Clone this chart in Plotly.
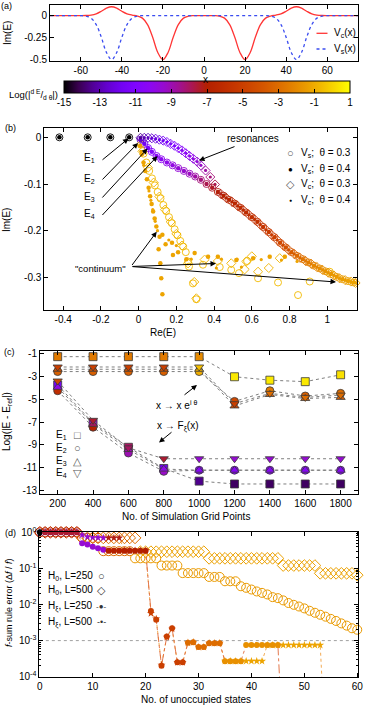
import plotly.graph_objects as go

W, H = 374, 706
FONT = "Liberation Sans, Arial, sans-serif"

# ---------------- panel (a): potentials ----------------
x_pot = [-75, -72.5, -70, -67.5, -65, -62.5, -60, -57.5, -55, -52.5, -50, -47.5, -45, -42.5, -40, -37.5,
         -35, -32.5, -30, -27.5, -25, -22.5, -20, -17.5, -15, -12.5, -10, -7.5, -5, -2.5, 0, 2.5, 5, 7.5,
         10, 12.5, 15, 17.5, 20, 22.5, 25, 27.5, 30, 32.5, 35, 37.5, 40, 42.5, 45, 47.5, 50, 52.5, 55,
         57.5, 60, 62.5, 65, 67.5, 70, 72.5, 75]
Vs_vals = [0, 0, 0, 0, 0, 0, -0.001, -0.006, -0.029, -0.102, -0.246, -0.419, -0.5, -0.419, -0.246, -0.102,
           -0.029, -0.006, -0.001, 0, 0, 0, 0, 0, 0, 0, 0, 0, 0, 0, 0, 0, 0, 0,
           0, 0, 0, 0, 0, 0, 0, 0, -0.001, -0.006, -0.029, -0.102, -0.246, -0.419, -0.5, -0.419, -0.246, -0.102, -0.029,
           -0.006, -0.001, 0, 0, 0, 0, 0, 0]
Vc_vals = [0, 0, 0, 0, 0, 0, 0, 0.001, 0.006, 0.020, 0.049, 0.084, 0.1, 0.084, 0.049, 0.020,
           0.005, -0.005, -0.029, -0.102, -0.246, -0.419, -0.5, -0.419, -0.246, -0.102, -0.029, -0.006, -0.001, 0, 0, 0, -0.001, -0.006,
           -0.029, -0.102, -0.246, -0.419, -0.5, -0.419, -0.246, -0.102, -0.029, -0.005, 0.005, 0.020, 0.049, 0.084, 0.1, 0.084, 0.049, 0.020, 0.006,
           0.001, 0, 0, 0, 0, 0, 0, 0]

# ---------------- panel (b): complex spectra ----------------
bound_re = [-0.42, -0.27, -0.15, -0.05]
bound_im = [0, 0, 0, 0]
bound_c = [-15, -15, -15, -15]

res_re = [0.01, 0.03, 0.05, 0.07, 0.095, 0.12, 0.15, 0.18, 0.21, 0.24,
          0.27, 0.30, 0.33, 0.36, 0.39, 0.42, 0.45, 0.48, 0.51, 0.54,
          0.57, 0.60, 0.63, 0.66, 0.69, 0.72, 0.75, 0.78, 0.81, 0.84,
          0.87, 0.90, 0.93, 0.96, 0.99, 1.02, 1.05, 1.08, 1.11, 1.14]
res_im = [-0.005, -0.014, -0.023, -0.031, -0.040, -0.047, -0.054, -0.060, -0.066, -0.072,
          -0.078, -0.084, -0.091, -0.100, -0.108, -0.117, -0.125, -0.134, -0.142, -0.151,
          -0.161, -0.171, -0.181, -0.192, -0.203, -0.214, -0.226, -0.236, -0.246, -0.254,
          -0.261, -0.268, -0.275, -0.281, -0.287, -0.293, -0.299, -0.304, -0.308, -0.311]
res_c = [-12.5, -11.8, -11.2, -10.8, -10.5, -10.2, -10, -9.8, -9.6, -9.4,
         -9.2, -8.8, -8.3, -7.8, -7.4, -7.1, -6.9, -6.7, -6.5, -6.3,
         -6.1, -5.9, -5.7, -5.5, -5.2, -4.9, -4.5, -4.1, -3.6, -3.1,
         -2.7, -2.4, -2.1, -1.9, -1.7, -1.6, -1.5, -1.4, -1.3, -1.2]

upper_re = [0.01, 0.03, 0.05, 0.07, 0.09, 0.11, 0.13, 0.15, 0.17, 0.19, 0.21, 0.23, 0.25, 0.27, 0.29, 0.31, 0.33,
            0.355, 0.38, 0.405,
            0.435, 0.465, 0.495, 0.525, 0.555, 0.585, 0.615, 0.645, 0.675, 0.705, 0.735, 0.765, 0.795, 0.825,
            0.855, 0.885, 0.915, 0.945, 0.975, 1.005, 1.035, 1.065, 1.095, 1.125, 1.15]
upper_im = [-0.001, -0.001, -0.001, -0.002, -0.003, -0.005, -0.007, -0.010, -0.014, -0.018, -0.023, -0.028, -0.034,
            -0.040, -0.046, -0.052, -0.060,
            -0.071, -0.085, -0.101,
            -0.121, -0.130, -0.138, -0.147, -0.156, -0.166, -0.176, -0.187, -0.198, -0.209, -0.220, -0.231, -0.241,
            -0.250, -0.258, -0.265, -0.271, -0.278, -0.284, -0.290, -0.296, -0.302, -0.306, -0.309, -0.312]
upper_c = [-13.5, -13, -12.8, -12.5, -12.2, -12, -11.7, -11.4, -11.2, -11, -10.8, -10.5, -10.3, -10.1, -9.9, -9.6, -9.3,
           -8.8, -8.3, -7.8,
           -7.2, -6.9, -6.7, -6.5, -6.3, -6.1, -5.9, -5.7, -5.5, -5.2, -4.9, -4.5, -4.1, -3.6, -3.1, -2.7, -2.4,
           -2.1, -1.9, -1.7, -1.6, -1.5, -1.4, -1.3, -1.2]

cont_vs3_re = [0.012, 0.026, 0.041, 0.056, 0.071, 0.086, 0.101, 0.116, 0.131, 0.146, 0.161, 0.176, 0.191, 0.206,
               0.221, 0.236, 0.25, 0.262, 0.267, 0.288, 0.306, 0.341, 0.43, 0.491, 0.532, 0.633, 0.739, 0.845,
               0.907, 1.013, 0.575]
cont_vs3_im = [-0.016, -0.035, -0.054, -0.072, -0.088, -0.103, -0.117, -0.131, -0.145, -0.158, -0.171, -0.184,
               -0.197, -0.21, -0.222, -0.234, -0.246, -0.266, -0.277, -0.313, -0.347, -0.273, -0.278, -0.284,
               -0.291, -0.302, -0.311, -0.338, -0.309, -0.288, -0.265]
cont_vs3_c = [-0.6] * 31

cont_vs4_re = [0.008, 0.017, 0.026, 0.035, 0.044, 0.053, 0.061, 0.069, 0.077, 0.085, 0.094, 0.111, 0.126, 0.106,
               0.143, 0.177, 0.209, 0.115, 0.12, 0.126, 0.182, 0.253, 0.297, 0.368, 0.42, 0.518, 0.607, 0.695, 0.775]
cont_vs4_im = [-0.018, -0.036, -0.054, -0.072, -0.09, -0.108, -0.126, -0.143, -0.159, -0.174, -0.191, -0.213,
               -0.209, -0.24, -0.229, -0.226, -0.246, -0.27, -0.302, -0.336, -0.252, -0.261, -0.248, -0.256,
               -0.256, -0.263, -0.259, -0.256, -0.256]
cont_vs4_c = [-1.2] * 29

cont_vc3_re = [0.02, 0.05, 0.08, 0.11, 0.14, 0.17, 0.20, 0.23, 0.262, 0.306, 0.35, 0.42, 0.491, 0.562, 0.571,
               0.633, 0.69, 0.748, 0.295, 0.60]
cont_vc3_im = [-0.03, -0.065, -0.097, -0.127, -0.155, -0.181, -0.207, -0.232, -0.270, -0.345, -0.262, -0.265,
               -0.27, -0.283, -0.266, -0.288, -0.28, -0.259, -0.31, -0.255]
cont_vc3_c = [-0.8] * 20

cont_vc4_re = [0.012, 0.027, 0.042, 0.055, 0.065, 0.075, 0.088, 0.1, 0.279, 0.412, 0.439, 0.522, 0.545, 0.65,
               0.757, 0.84, 0.2, 0.16]
cont_vc4_im = [-0.03, -0.06, -0.09, -0.115, -0.135, -0.155, -0.18, -0.2, -0.261, -0.28, -0.261, -0.261, -0.278,
               -0.262, -0.263, -0.266, -0.232, -0.22]
cont_vc4_c = [-1.2] * 18

# ---------------- panel (c): convergence ----------------
grid_pts = [200, 400, 600, 800, 1000, 1200, 1400, 1600, 1800]
cs_E1 = [-1.3, -1.3, -1.3, -1.3, -1.3, -3.05, -3.35, -3.48, -2.88]
cs_E2 = [-2.6, -2.6, -2.6, -2.6, -2.6, -5.2, -4.27, -4.73, -4.5]
cs_E3 = [-2.4, -2.4, -2.4, -2.4, -2.4, -5.6, -4.6, -4.95, -4.85]
cs_E4 = [-2.2, -2.2, -2.2, -2.2, -2.2, -5.4, -4.5, -4.85, -4.65]
cs_E1_c = [-2.5, -2.5, -2.5, -2.5, -2.0, 0.5, 0.5, 0.5, 0.3]
cs_E2_c = [-3.5, -3.5, -3.5, -3.5, -1.0, -4.5, -2.5, -3.5, -3.0]
cs_E3_c = [-4.0, -4.0, -4.0, -4.0, -1.0, -4.5, -3.5, -3.5, -3.5]
cs_E4_c = [-5.0, -5.0, -5.0, -5.0, -0.5, -5.0, -3.0, -3.0, -3.0]
fx_E1 = [-3.77, -7.1, -9.2, -11.05, -12.15, -12.4, -12.4, -12.4, -12.4]
fx_E2 = [-4.27, -7.45, -9.7, -11.3, -11.2, -11.2, -11.2, -11.2, -11.2]
fx_E3 = [-3.97, -7.2, -9.4, -11.1, -11.2, -11.2, -11.2, -11.2, -11.2]
fx_E4 = [-3.42, -6.85, -9.25, -10.2, -10.2, -10.2, -10.2, -10.2, -10.2]
fx_E1_c = [-11.5, -9.5, -8.0, -12.0, -13.5, -14.0, -14.0, -14.0, -14.0]
fx_E2_c = [-6.0, -7.0, -9.0, -9.3, -10.5, -10.5, -10.5, -10.5, -10.5]
fx_E3_c = [-10.0, -8.0, -9.0, -10.0, -10.5, -10.5, -10.5, -10.5, -10.5]
fx_E4_c = [-4.5, -7.5, -8.0, -7.5, -9.5, -9.5, -9.5, -9.5, -9.5]

# ---------------- panel (d): f-sum rule ----------------
n_states = [0, 1, 2, 3, 4, 5, 6, 7, 8, 9, 10, 11, 12, 13, 14, 15, 16, 17, 18, 19, 20, 21, 22, 23, 24, 25, 26,
            27, 28, 29, 30, 31, 32, 33, 34, 35, 36, 37, 38, 39, 40, 41, 42, 43, 44, 45, 46, 47, 48, 49, 50, 51,
            52, 53, 54, 55, 56, 57, 58, 59, 60]
h0_250 = [1.0, 1.0, 1.0, 1.0, 1.0, 1.0, 1.0, 1.0, 0.7, 0.7, 0.7, 0.7, 0.3, 0.3, 0.3, 0.3, 0.3, 0.3,
          0.19, 0.19, 0.19, 0.19, 0.19, 0.12, 0.12, 0.12, 0.12, 0.074, 0.074, 0.074, 0.074, 0.074,
          0.058, 0.058, 0.058, 0.044, 0.044, 0.044, 0.032, 0.029, 0.026, 0.023, 0.021, 0.019, 0.016,
          0.015, 0.013, 0.011, 0.0098, 0.0088, 0.0078, 0.0067, 0.0059, 0.0052, 0.0046, 0.004, 0.0035,
          0.003, 0.0026, 0.0022, 0.002]
h0_250_c = [-6] * 8 + [-4] * 4 + [-3] * 6 + [-1.5] * 43
h0_500 = [1.0, 1.0, 1.0, 1.0, 1.0, 1.0, 1.0, 1.0, 0.7, 0.7, 0.7, 0.7, 0.7, 0.7, 0.7, 0.7, 0.7, 0.7, 0.7,
          0.29, 0.29, 0.29, 0.29, 0.29, 0.29, 0.29, 0.29, 0.29, 0.29, 0.29, 0.29, 0.29,
          0.19, 0.19, 0.19, 0.19, 0.19, 0.19, 0.19, 0.19, 0.19, 0.19, 0.19, 0.19, 0.19, 0.19,
          0.12, 0.12, 0.12, 0.12, 0.12, 0.12, 0.12, 0.073, 0.073, 0.073, 0.073, 0.073, 0.073, 0.073, 0.065]
h0_500_c = [-6] * 8 + [-3] * 11 + [-1.3] * 42
hx_250 = [1.0, 1.0, 1.0, 1.0, 1.0, 1.0, 1.0, 1.0, 0.5, 0.46, 0.4, 0.36, 0.33,
          0.31, 0.31, 0.31, 0.31, 0.31, 0.31, 0.31, 0.31,
          0.0066, 0.0038, 2.0e-4, 1.3e-3, 2.2e-3, 2.5e-4, 2.5e-4, 8.7e-4, 9.0e-4, 6.6e-4, 6.6e-4,
          8.5e-4, 8.5e-4, 8.5e-4, 2.7e-4, 2.7e-4, 2.7e-4, 2.7e-4,
          7.5e-4, 7.5e-4, 7.5e-4, 7.5e-4, 7.5e-4, 7.5e-4, 7.5e-4, 1e-6]
hx_250_c = [-15] + [-7.5] * 7 + [-9.5] * 5 + [-7] * 8 + [-5] * 7 + [-3] * 7 + [-1.8] * 11
hx_500 = [1.0, 1.0, 1.0, 1.0, 1.0, 1.0, 1.0, 1.0, 0.85, 0.75, 0.72, 0.71, 0.7, 0.7, 0.7, 0.7,
          0.31, 0.31, 0.31, 0.31, 0.31,
          0.0057, 0.0040, 2.1e-4, 1.25e-3, 2.1e-3, 2.5e-4, 2.5e-4, 8.7e-4, 9.0e-4, 6.6e-4, 6.6e-4,
          8.5e-4, 8.5e-4, 8.5e-4,
          2.7e-4, 2.7e-4, 2.7e-4, 2.7e-4, 2.7e-4, 2.7e-4, 2.7e-4, 2.7e-4,
          7.5e-4, 7.5e-4, 7.5e-4, 7.5e-4, 7.5e-4, 7.5e-4, 7.5e-4, 7.5e-4, 7.5e-4, 7.5e-4, 7.5e-4, 1e-6]
hx_500_c = [-13] * 8 + [-9.5] * 5 + [-7.2] * 3 + [-7] * 5 + [-5] * 7 + [-3] * 7 + [-1.2] * 19
ref_level = [1e-3, 1e-3]
ref_x = [0, 60]

# ---------------- colour palette (gnuplot-like) ----------------
PALETTE = [[0.0, "rgb(0,0,0)"], [0.05, "rgb(57,0,79)"], [0.1, "rgb(81,0,150)"], [0.15, "rgb(99,1,206)"],
           [0.2, "rgb(114,2,243)"], [0.25, "rgb(128,4,255)"], [0.3, "rgb(140,7,243)"],
           [0.35, "rgb(151,11,206)"], [0.4, "rgb(161,16,150)"], [0.45, "rgb(171,23,79)"],
           [0.5, "rgb(180,32,0)"], [0.55, "rgb(189,42,0)"], [0.6, "rgb(198,55,0)"], [0.65, "rgb(206,70,0)"],
           [0.7, "rgb(213,87,0)"], [0.75, "rgb(221,108,0)"], [0.8, "rgb(228,131,0)"],
           [0.85, "rgb(235,157,0)"], [0.9, "rgb(242,186,0)"], [0.95, "rgb(249,219,0)"], [1.0, "rgb(255,255,0)"]]


def px(x):
    return x / W


def py(y):
    return 1 - y / H


fig = go.Figure()

# (a)
fig.add_trace(go.Scatter(x=x_pot, y=Vc_vals, mode="lines", line=dict(color="#ff3535", width=1.3, shape="spline"),
                         xaxis="x", yaxis="y"))
fig.add_trace(go.Scatter(x=x_pot, y=Vs_vals, mode="lines",
                         line=dict(color="#3a4cf0", width=1.3, dash="dot", shape="spline"), xaxis="x", yaxis="y"))


# (b)
def pts(xs, ys, cs, symbol, size, open_=False, lw=1.0):
    return go.Scatter(x=xs, y=ys, mode="markers", xaxis="x2", yaxis="y2", cliponaxis=False,
                      marker=dict(symbol=symbol, size=size, color=cs, coloraxis="coloraxis",
                                  line=dict(width=lw if open_ else 0)))


fig.add_trace(pts(bound_re + res_re + cont_vs3_re, bound_im + res_im + cont_vs3_im,
                  bound_c + res_c + cont_vs3_c, "circle-open", 7, True, 0.9))
fig.add_trace(pts(upper_re + cont_vc3_re, upper_im + cont_vc3_im, upper_c + cont_vc3_c,
                  "diamond-open", 7, True, 0.9))
fig.add_trace(pts(bound_re + res_re + cont_vs4_re, bound_im + res_im + cont_vs4_im,
                  bound_c + res_c + cont_vs4_c, "circle", 4.5))
fig.add_trace(pts(upper_re + cont_vc4_re, upper_im + cont_vc4_im, upper_c + cont_vc4_c, "circle", 3.2))

# (c)
syms = ["square", "circle", "triangle-up", "triangle-down"]
for ys, cs, sym in zip([cs_E1, cs_E2, cs_E3, cs_E4, fx_E1, fx_E2, fx_E3, fx_E4],
                       [cs_E1_c, cs_E2_c, cs_E3_c, cs_E4_c, fx_E1_c, fx_E2_c, fx_E3_c, fx_E4_c],
                       syms + syms):
    fig.add_trace(go.Scatter(x=grid_pts, y=ys, mode="lines+markers", xaxis="x3", yaxis="y3", cliponaxis=False,
                             line=dict(color="#707070", width=0.9, dash="dot"),
                             marker=dict(symbol=sym, size=8, color=cs, coloraxis="coloraxis",
                                         line=dict(color="#3a3a3a", width=0.8))))

# (d)
fig.add_trace(go.Scatter(x=ref_x, y=ref_level, mode="lines", xaxis="x4", yaxis="y4",
                         line=dict(color="#888888", width=0.8, dash="dot")))
fig.add_trace(go.Scatter(x=n_states, y=h0_250, mode="markers", xaxis="x4", yaxis="y4", cliponaxis=False,
                         marker=dict(symbol="circle-open", size=9, color=h0_250_c, coloraxis="coloraxis",
                                     line=dict(width=1))))
fig.add_trace(go.Scatter(x=n_states, y=h0_500, mode="markers", xaxis="x4", yaxis="y4", cliponaxis=False,
                         marker=dict(symbol="diamond-open", size=9, color=h0_500_c, coloraxis="coloraxis",
                                     line=dict(width=1))))
n500 = n_states[:len(hx_500)]
n250 = n_states[:len(hx_250)]
fig.add_trace(go.Scatter(x=n500, y=hx_500, mode="lines", xaxis="x4", yaxis="y4",
                         line=dict(color="#f0a040", width=0.9, dash="dot")))
fig.add_trace(go.Scatter(x=n250, y=hx_250, mode="lines", xaxis="x4", yaxis="y4",
                         line=dict(color="#e06a3a", width=0.9, dash="dashdot")))
fig.add_trace(go.Scatter(x=n500[:-1], y=hx_500[:-1], mode="markers", xaxis="x4", yaxis="y4", cliponaxis=False,
                         marker=dict(symbol="star", size=6, color=hx_500_c, coloraxis="coloraxis",
                                     line=dict(width=0))))
fig.add_trace(go.Scatter(x=n250[:-1], y=hx_250[:-1], mode="markers", xaxis="x4", yaxis="y4", cliponaxis=False,
                         marker=dict(symbol="circle", size=6, color=hx_250_c, coloraxis="coloraxis",
                                     line=dict(width=0))))


def axis(dom, rng, tv, tt, anchor, **kw):
    d = dict(domain=dom, range=rng, tickmode="array", tickvals=tv, ticktext=tt, ticks="inside", ticklen=4,
             tickwidth=1, tickcolor="black", mirror="allticks", showline=True, linecolor="black", linewidth=1,
             showgrid=False, zeroline=False, anchor=anchor, automargin=False,
             tickfont=dict(size=10, family=FONT, color="black"))
    d.update(kw)
    return d


fig.update_layout(
    width=W, height=H, margin=dict(l=0, r=0, t=0, b=0, autoexpand=False), showlegend=False,
    paper_bgcolor="white", plot_bgcolor="white", font=dict(family=FONT, size=10, color="black"),
    xaxis=axis([px(50), px(358)], [-75, 75], [-60, -40, -20, 0, 20, 40, 60],
               ["-60", "-40", "-20", "0", "20", "40", "60"], "y"),
    yaxis=axis([py(60.5), py(5)], [-0.51, 0.12], [0, -0.25, -0.5], ["0", "-0.25", "-0.5"], "x"),
    xaxis2=axis([px(44.3), px(356.5)], [-0.5, 1.155], [-0.4, -0.2, 0, 0.2, 0.4, 0.6, 0.8, 1.0],
                ["-0.4", "-0.2", "0", "0.2", "0.4", "0.6", "0.8", "1"], "y2"),
    yaxis2=axis([py(310), py(128)], [-0.37, 0.02], [0, -0.1, -0.2, -0.3], ["0", "-0.1", "-0.2", "-0.3"], "x2"),
    xaxis3=axis([px(40), px(358.3)], [100, 1900], grid_pts, [str(g) for g in grid_pts], "y3"),
    yaxis3=axis([py(494.3), py(350.7)], [-13.3, -0.78], [-1, -3, -5, -7, -9, -11, -13],
                ["-1", "-3", "-5", "-7", "-9", "-11", "-13"], "x3"),
    xaxis4=axis([px(39.3), px(358.3)], [-0.1, 60.2], [0, 10, 20, 30, 40, 50, 60],
                ["0", "10", "20", "30", "40", "50", "60"], "y4"),
    yaxis4=axis([py(676.7), py(532.3)], [-4, 0], [1e-4, 1e-3, 1e-2, 1e-1, 1],
                ["10<sup>-4</sup>", "10<sup>-3</sup>", "10<sup>-2</sup>", "10<sup>-1</sup>", "10<sup>0</sup>"],
                "x4", type="log",
                minor=dict(tickmode="array", ticks="inside", ticklen=2, tickcolor="black",
                           tickvals=[2e-4, 3e-4, 4e-4, 5e-4, 6e-4, 7e-4, 8e-4, 9e-4, 2e-3, 3e-3, 4e-3, 5e-3,
                                     6e-3, 7e-3, 8e-3, 9e-3, 2e-2, 3e-2, 4e-2, 5e-2, 6e-2, 7e-2, 8e-2, 9e-2,
                                     0.2, 0.3, 0.4, 0.5, 0.6, 0.7, 0.8, 0.9])),
    coloraxis=dict(colorscale=PALETTE, cmin=-15, cmax=1, showscale=True,
                   colorbar=dict(orientation="h", x=px(207), xanchor="center", y=py(97), yanchor="middle",
                                 len=286 / W, lenmode="fraction", thickness=12, thicknessmode="pixels",
                                 xpad=0, ypad=0, outlinewidth=1, outlinecolor="black",
                                 tickmode="array", tickvals=[-15, -13, -11, -9, -7, -5, -3, -1, 1],
                                 ticktext=["-15", "-13", "-11", "-9", "-7", "-5", "-3", "-1", "1"],
                                 ticks="inside", ticklen=4, tickcolor="black",
                                 tickfont=dict(size=10, family=FONT, color="black"))),
)

ann = []


def text(t, x, y, size=10, angle=0, xanchor="center", color="black"):
    ann.append(dict(text=t, x=px(x), y=py(y), xref="paper", yref="paper", showarrow=False, textangle=angle,
                    xanchor=xanchor, yanchor="middle", font=dict(size=size, family=FONT, color=color)))


def arrow(tx, ty, hx, hy):
    ann.append(dict(text="", x=px(hx), y=py(hy), xref="paper", yref="paper", ax=tx - hx, ay=ty - hy,
                    axref="pixel", ayref="pixel", showarrow=True, arrowhead=2, arrowsize=1.1, arrowwidth=1,
                    arrowcolor="black", standoff=0, startstandoff=0))


# panel labels
text("(a)", 7, 6, 9)
text("(b)", 10, 128, 9)
text("(c)", 9, 352, 9)
text("(d)", 10, 533, 9)
# axis titles
text("Im(E)", 8, 33, 10, -90)
text("x", 205, 79, 10)
text("Log(|<sup>d E</sup>/<sub>d θ</sub>|)", 33, 95, 9.5)
text("Im(E)", 7, 220, 10, -90)
text("Re(E)", 163, 333, 10)
text("Log(|E - E<sub>ref</sub>|)", 7, 422, 10, -90)
text("No. of Simulation Grid Points", 186, 516, 10)
text("<i>f</i>-sum rule error (Δ<i>f</i> / <i>f</i>)", 9, 603, 9, -90)
text("No. of unoccupied states", 196, 699, 10)

# (a) legend
text("V<sub>c</sub>(x)", 332, 33, 10, xanchor="left")
text("V<sub>s</sub>(x)", 332, 49, 10, xanchor="left")

# (b) annotations
text("resonances", 253, 139, 10)
arrow(236, 146, 199, 160.5)
for i, (ly, ty, hx, hy) in enumerate([(158, 161, 128.5, 138.5), (179, 181, 138, 143),
                                       (197, 199, 147.5, 148.5), (214, 216.5, 157.5, 156)]):
    text("E<sub>%d</sub>" % (i + 1), 89, ly, 10)
    arrow(101, ty, hx, hy)
text('"continuum"', 100, 268, 9.5)
arrow(131, 266.5, 156.7, 231.7)
arrow(131, 266.5, 216, 263.5)
arrow(131, 266.5, 336, 282)
for ly, sym, lab, col, sz in [(153, "○", "V<sub>s</sub>;  θ = 0.3", "#555555", 11),
                              (169, "●", "V<sub>s</sub>;  θ = 0.4", "black", 8),
                              (184, "◇", "V<sub>c</sub>;  θ = 0.3", "#555555", 11),
                              (199.5, "●", "V<sub>c</sub>;  θ = 0.4", "black", 5)]:
    text(sym, 290, ly, sz, color=col)
    text(lab, 299, ly, 10, xanchor="left")

# (c) annotations
text("x → x e<sup>i θ</sup>", 176, 405, 10)
arrow(183, 396, 197, 385)
text("x → F<sub>ξ</sub>(x)", 177, 426, 10)
arrow(173, 431, 159, 442.5)
for ly, lab, sym in [(435, "E<sub>1</sub>", "□"), (448.3, "E<sub>2</sub>", "○"),
                     (460.5, "E<sub>3</sub>", "△"), (473.3, "E<sub>4</sub>", "▽")]:
    text(lab, 61, ly, 10)
    text(sym, 77, ly, 11, color="#555555")

# (d) annotations
for ly, lab, sym, sz in [(576, "H<sub>0</sub>, L=250", "○", 11), (590, "H<sub>0</sub>, L=500", "◇", 11),
                         (606, "H<sub>ξ</sub>, L=250", "-●-", 8), (622, "H<sub>ξ</sub>, L=500", "-•-", 9)]:
    text(lab, 70, ly, 10)
    text(sym, 101, ly, sz, color="#333333")

shapes = [dict(type="line", xref="paper", yref="paper", x0=px(316.5), x1=px(327.5), y0=py(33.3), y1=py(33.3),
               line=dict(color="#ff3535", width=1.3)),
          dict(type="line", xref="paper", yref="paper", x0=px(316.5), x1=px(327.5), y0=py(49), y1=py(49),
               line=dict(color="#3a4cf0", width=1.3, dash="dot"))]

fig.update_layout(annotations=ann, shapes=shapes)
fig.write_html("out.html", config={"displayModeBar": False},
               post_script="document.body.style.margin='0';document.body.style.padding='0';"
                           "document.body.style.overflow='hidden';")
